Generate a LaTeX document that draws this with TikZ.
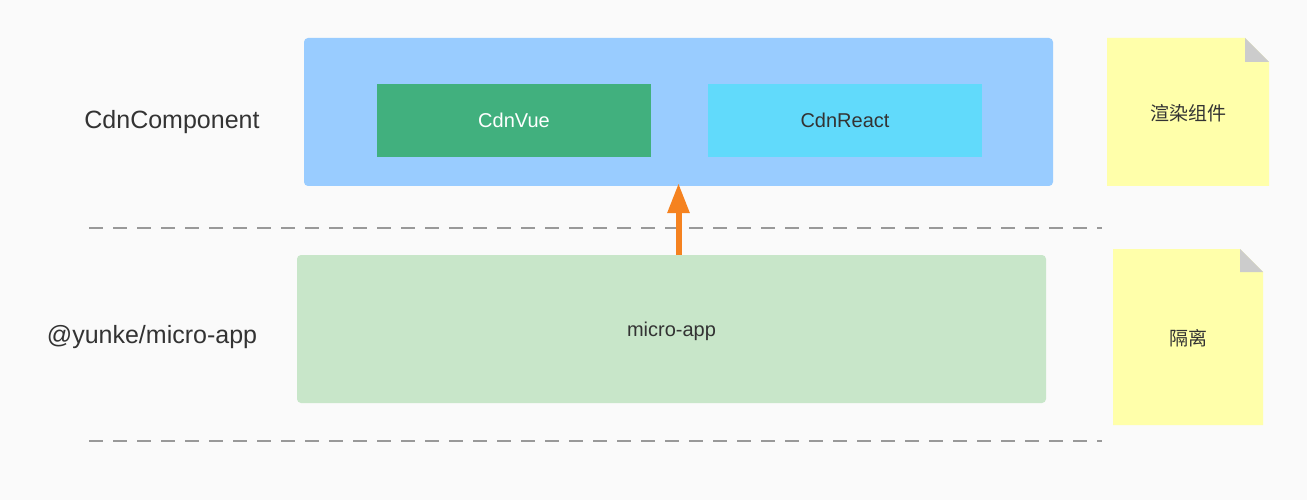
\documentclass[tikz,border=0pt]{standalone}
\usepackage{fontspec}
\setmainfont{Liberation Sans}
\newfontfamily\cjk{Noto Sans CJK SC}
\usetikzlibrary{arrows.meta}
\definecolor{bgc}{HTML}{FAFAFA}
\definecolor{bluebox}{HTML}{99CCFF}
\definecolor{vuec}{HTML}{41B07E}
\definecolor{reactc}{HTML}{61DAFB}
\definecolor{greenbox}{HTML}{C8E6C9}
\definecolor{notec}{HTML}{FFFFAA}
\definecolor{foldc}{HTML}{CCCCCC}
\definecolor{dashc}{HTML}{999999}
\definecolor{arrowc}{HTML}{F5821F}
\definecolor{txt}{HTML}{333333}
\tikzset{
  panel/.style={inner sep=0pt, rounded corners=4pt},
  inner/.style={inner sep=0pt, font=\fontsize{20}{24}\selectfont},
  sidelabel/.style={text=txt, font=\fontsize{25}{30}\selectfont},
  notetext/.style={text=txt, font=\cjk\fontsize{19}{23}\selectfont},
  sep/.style={draw=dashc, line width=2pt, dash pattern=on 14pt off 10pt},
}
\begin{document}
\begin{tikzpicture}[x=1pt,y=-1pt]
\fill[bgc] (0,0) rectangle (1307,500);
\useasboundingbox (0,0) rectangle (1307,500);

% dashed separators
\coordinate (s1a) at (89,228); \coordinate (s1b) at (1102,228);
\coordinate (s2a) at (89,441); \coordinate (s2b) at (1102,441);
\draw[sep] (s1a) -- (s1b);
\draw[sep] (s2a) -- (s2b);

% top panel
\node[panel, fill=bluebox, minimum width=749pt, minimum height=148pt] (blue) at (678.5,112) {};
\node[inner, fill=vuec, text=white, minimum width=274pt, minimum height=73pt] (vue) at (514,120.5) {CdnVue};
\node[inner, fill=reactc, text=txt, minimum width=274pt, minimum height=73pt] (react) at (845,120.5) {CdnReact};

% bottom panel
\node[panel, fill=greenbox, text=txt, font=\fontsize{20}{24}\selectfont, minimum width=749pt, minimum height=148pt] (micro) at (671.5,329) {};
\node[text=txt, font=\fontsize{20}{24}\selectfont] (microlbl) at (671.5,331) {micro-app};

% arrow
\coordinate (astart) at (blue.south |- micro.north);
\draw[arrowc, line width=6pt, -{Triangle[length=30pt,width=21pt]}, shorten >=-3pt] (astart) -- (blue.south);

% side labels
\node[sidelabel] (l1) at (172,122) {CdnComponent};
\node[sidelabel] (l2) at (152,337) {@yunke/micro-app};

% notes
\fill[notec] (1107,38) -- (1245,38) -- (1269,62) -- (1269,186) -- (1107,186) -- cycle;
\fill[foldc] (1245,38) -- (1269,62) -- (1245,62) -- cycle;
\node[notetext] (n1) at (1188,113) {渲染组件};

\fill[notec] (1113,249) -- (1240,249) -- (1263,272) -- (1263,425) -- (1113,425) -- cycle;
\fill[foldc] (1240,249) -- (1263,272) -- (1240,272) -- cycle;
\node[notetext] (n2) at (1188,338) {隔离};
\end{tikzpicture}
\end{document}
